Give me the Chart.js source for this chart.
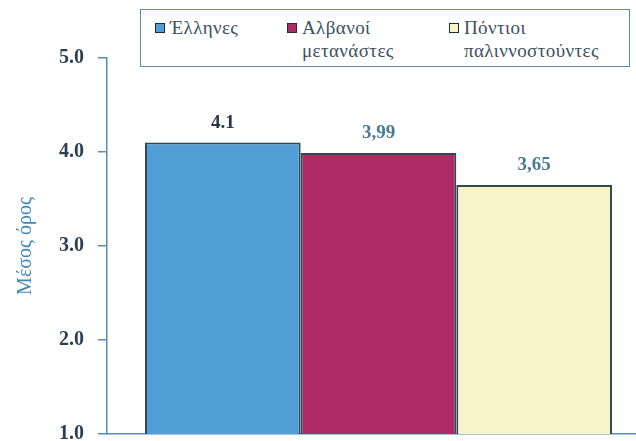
<!DOCTYPE html>
<html>
<head>
<meta charset="utf-8">
<script src="https://cdn.jsdelivr.net/npm/chart.js@4.4.0/dist/chart.umd.min.js"></script>
<style>
	html, body { margin: 0; padding: 0; background: #fff; overflow: hidden; }
	#wrap { position: relative; width: 652px; height: 441px; }
	#legend {
		position: absolute; left: 140px; top: 9px; width: 490px; height: 58px;
		box-sizing: border-box; border: 1.5px solid #5b8db3; background: #fff;
		font-family: 'Liberation Serif', 'Times New Roman', serif; font-size: 19px;
		color: #3a5062; line-height: 23px;
	}
	#legend .item { position: absolute; top: 6px; }
	#legend .sw {
		position: absolute; top: 7px; width: 8px; height: 8px;
		border: 1.5px solid #1f2f3a;
	}
	#legend .txt { position: absolute; top: 0; left: 15px; white-space: nowrap; letter-spacing: 0.4px; }
</style>
</head>
<body>
<div id="wrap">
	<canvas id="chart" width="652" height="441"></canvas>
	<div id="legend"></div>
</div>
<script>
	// values
	var categories = [''];
	var seriesLabels = ['Έλληνες', 'Αλβανοί\nμετανάστες', 'Πόντιοι\nπαλιννοστούντες'];
	var seriesValues = [4.1, 3.99, 3.65];
	var valueLabels = ['4.1', '3,99', '3,65'];
	var tickLabels = { 1: '1.0', 2: '2.0', 3: '3.0', 4: '4.0', 5: '5.0' };

	var colors = ['#519ed6', '#b02b66', '#f8f4c9'];
	var labelColors = ['#2b3642', '#4b7b93', '#4b7b93'];
	var legendLeft = [14, 146, 308];
	var serif = "'Liberation Serif', 'Times New Roman', serif";

	var datasets = seriesLabels.map(function (lbl, i) {
		return {
			label: lbl,
			data: [seriesValues[i]],
			backgroundColor: colors[i],
			borderColor: '#2f4856',
			borderWidth: 2,
			borderSkipped: false,
			barPercentage: 1,
			categoryPercentage: 0.86
		};
	});

	var valueLabelPlugin = {
		id: 'valueLabels',
		afterDatasetsDraw: function (chart) {
			var ctx = chart.ctx;
			ctx.save();
			ctx.font = 'bold 19px ' + serif;
			ctx.textAlign = 'center';
			ctx.textBaseline = 'middle';
			chart.data.datasets.forEach(function (ds, i) {
				var el = chart.getDatasetMeta(i).data[0];
				ctx.fillStyle = labelColors[i];
				ctx.fillText(valueLabels[i], el.x, el.y - 20);
			});
			ctx.restore();
		}
	};

	new Chart(document.getElementById('chart'), {
		type: 'bar',
		data: { labels: categories, datasets: datasets },
		options: {
			responsive: false,
			animation: false,
			layout: { padding: { top: 58, right: 2, left: 0, bottom: 0 } },
			plugins: { legend: { display: false }, tooltip: { enabled: false } },
			scales: {
				x: {
					grid: { display: false },
					ticks: { display: false },
					border: { color: '#5b8db3', width: 1.5 },
					afterFit: function (s) { s.height = 7; s.paddingLeft = 0; s.paddingRight = 0; }
				},
				y: {
					min: 1,
					max: 5,
					ticks: {
						stepSize: 1,
						padding: 14,
						color: '#2d3f50',
						font: { family: serif, size: 20, weight: 'bold' },
						callback: function (v) { return tickLabels[v]; }
					},
					grid: { drawOnChartArea: false, tickLength: 9, color: '#5b8db3', lineWidth: 1.5 },
					border: { color: '#5b8db3', width: 1.5 },
					title: {
						display: true,
						text: 'Μέσος όρος',
						color: '#3f88b8',
						font: { family: serif, size: 20 },
						padding: { top: 14, bottom: 0 }
					},
					afterFit: function (s) { s.width = 107; s.paddingTop = 0; s.paddingBottom = 0; }
				}
			}
		},
		plugins: [valueLabelPlugin]
	});

	var legendEl = document.getElementById('legend');
	seriesLabels.forEach(function (lbl, i) {
		var item = document.createElement('div');
		item.className = 'item';
		item.style.left = legendLeft[i] + 'px';
		var sw = document.createElement('div');
		sw.className = 'sw';
		sw.style.background = colors[i];
		var txt = document.createElement('div');
		txt.className = 'txt';
		lbl.split('\n').forEach(function (line, j) {
			if (j) txt.appendChild(document.createElement('br'));
			txt.appendChild(document.createTextNode(line));
		});
		item.appendChild(sw);
		item.appendChild(txt);
		legendEl.appendChild(item);
	});
</script>
</body>
</html>
